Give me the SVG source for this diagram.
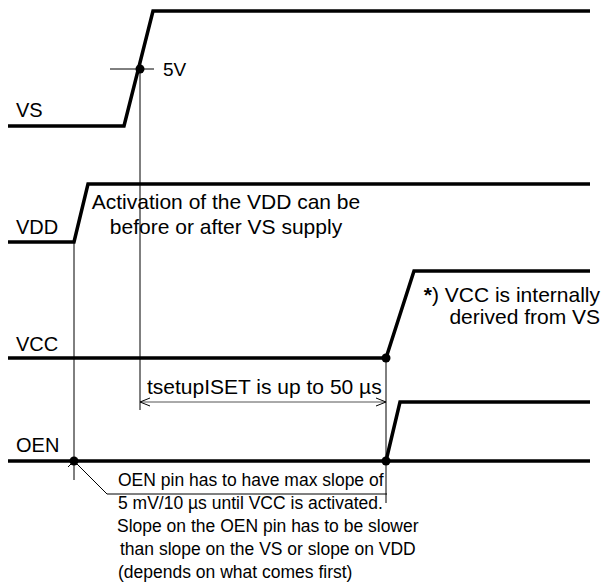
<svg xmlns="http://www.w3.org/2000/svg" width="602" height="588" viewBox="0 0 602 588">
<style>
.sig{fill:none;stroke:#000;stroke-width:3.5;stroke-linejoin:miter}
.thin{fill:none;stroke:#000;stroke-width:1}
.dim{fill:none;stroke:#555;stroke-width:1}
text{font-family:"Liberation Sans",Arial,sans-serif;font-size:18px;fill:#000}
.lbl{font-size:20px}
.big{font-size:21px}
.note{font-size:17.5px}
</style>
<defs>
<marker id="oa" viewBox="0 0 10 10" refX="10" refY="5" markerWidth="10" markerHeight="10" markerUnits="userSpaceOnUse" orient="auto-start-reverse">
<path d="M0,1 L10,5 L0,9" fill="none" stroke="#000" stroke-width="1"/>
</marker>
</defs>
<g id="connectors">
<line class="thin" x1="140" y1="69" x2="140" y2="410"/>
<line class="thin" x1="110" y1="69" x2="154" y2="69"/>
<line class="thin" x1="74" y1="242" x2="74" y2="480"/>
<line class="thin" x1="386" y1="358" x2="386" y2="503"/>
<line class="dim" x1="140" y1="402" x2="386" y2="402" marker-start="url(#oa)" marker-end="url(#oa)"/>
<polyline class="thin" points="68,467 74,461 107,494 387,494"/>
</g>
<g id="VS">
<polyline class="sig" points="8,126 124,126 153,11 590,11"/>
<text class="lbl" x="16" y="117">VS</text>
<circle cx="140" cy="69" r="4.5"/>
<text x="163" y="76" style="font-size:19px">5V</text>
</g>
<g id="VDD">
<polyline class="sig" points="8,242 74,242 88,184 590,184"/>
<text class="lbl" x="16" y="234">VDD</text>
<text class="big" x="226" y="209" text-anchor="middle">Activation of the VDD can be</text>
<text class="big" x="226" y="234" text-anchor="middle">before or after VS supply</text>
</g>
<g id="VCC">
<polyline class="sig" points="8,358 386,358 414,271 590,271"/>
<circle cx="386" cy="358" r="4.5"/>
<text class="lbl" x="16" y="351">VCC</text>
<text class="big" x="600" y="302" text-anchor="end"><tspan font-weight="bold">*</tspan>) VCC is internally</text>
<text class="big" x="600" y="324" text-anchor="end">derived from VS</text>
</g>
<g id="tsetup">
<text class="big" x="147" y="394">tsetupISET is up to 50 µs</text>
</g>
<g id="OEN">
<polyline class="sig" points="8,461 590,461"/>
<polyline class="sig" points="386,461 400,402 590,402"/>
<circle cx="74" cy="461" r="4.5"/>
<circle cx="386" cy="461" r="4.5"/>
<text class="lbl" x="16" y="452">OEN</text>
<text class="note" x="118" y="486">OEN pin has to have max slope of</text>
<text class="note" x="118" y="509">5 mV/10 µs until VCC is activated.</text>
<text class="note" x="117" y="532">Slope on the OEN pin has to be slower</text>
<text class="note" x="120" y="555">than slope on the VS or slope on VDD</text>
<text class="note" x="118" y="578">(depends on what comes first)</text>
</g>
</svg>
